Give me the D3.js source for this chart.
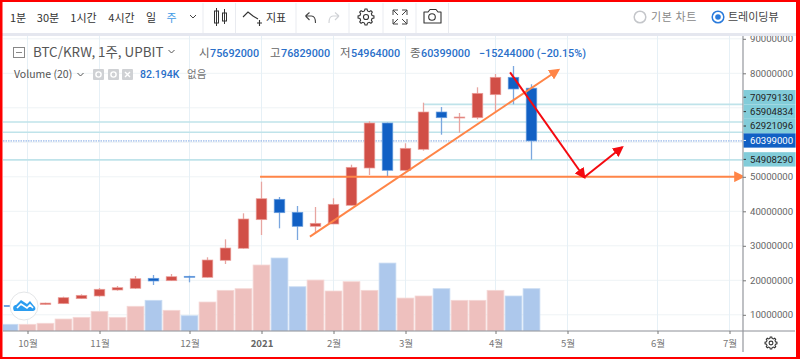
<!DOCTYPE html>
<html><head><meta charset="utf-8">
<script src="https://cdn.jsdelivr.net/npm/d3@7"></script>
<style>
html,body{margin:0;padding:0;background:#fff;overflow:hidden}
svg{display:block}
text{font-family:"Noto Sans CJK KR","Noto Sans",sans-serif}
.num{font-family:"Roboto","Liberation Sans",sans-serif}
</style></head><body>
<div id="chart"></div>
<script>
// ---- data (prices in millions of KRW, volume in thousands BTC) ----
const opens  = [12.7,12.5,13.0,13.22,14.67,15.45,17.19,17.68,20.58,19.88,21.16,20.87,25.8,29.28,37.57,43.48,39.71,35.65,36.32,41.74,52.55,65.59,51.88,57.97,68.78,67.04,67.13,73.8,78.84,75.692];
const highs  = [12.8,13.1,13.5,15.25,15.94,17.77,18.35,21.25,21.54,21.83,21.33,26.67,31.88,39.42,48.58,44.14,41.54,41.25,43.77,53.51,66.09,65.7,59.71,71.48,70.23,68.49,75.94,79.8,82.12,76.829];
const lows   = [12.3,12.4,12.9,13.2,14.6,15.25,16.99,17.48,18.64,19.8,19.42,20.8,24.72,29.16,33.13,35.07,31.68,33.71,36.3,41.7,50.52,50.03,51.8,57.57,62.2,62.78,66.67,68.87,71.01,54.964];
const closes = [12.45,13.0,13.4,14.96,15.65,17.4,17.86,20.46,19.8,21.04,20.87,25.88,29.36,37.77,43.65,39.59,35.65,36.52,42.03,52.75,65.59,51.88,58.26,68.78,67.13,67.33,74.2,78.84,75.45,60.399];
const volumes = [13,13,15,23.3,26.6,38.3,26.6,48,59.6,40.2,29.7,56.3,79,82.2,128.2,141.8,86,99,77.7,95.8,79,132,64,68,82.2,59.6,59.6,79,68,82.194];
const priceTicks = [10,20,30,40,50,60,70,80,90];
const hiddenPriceLabels = [60,70];
const monthIdx = [1,5,10,14,18,22,27,31,36,40];
const monthLabels = ["10월","11월","12월","2021","2월","3월","4월","5월","6월","7월"];
const levels = [70.97913,65.904834,62.921096,60.399,54.90829];
const levelLabels = ["70979130","65904834","62921096","60399000","54908290"];
const levelFrom = [23,-1,-1,-1,-1];
// drawings, as [bar index, price]
const supportLine = [[13.92,50.05],[40.75,50.05]];
const trendLine = [[16.69,32.64],[30.49,80.96]];
const redDown = [[27.81,80.29],[31.93,49.86]];
const redUp = [[31.93,49.86],[34.03,58.55]];
const intervals = ["1분","30분","1시간","4시간","일","주"];
const intervalX = [18,48,83.5,121.5,151,171.5];
const ohlcPrefix = ["시","고","저","종"];
const ohlcValues = ["75692000","76829000","54964000","60399000"];
const ohlcX = [199,270,340,410];

const W=800,H=359;
const svg=d3.select("#chart").append("svg").attr("width",W).attr("height",H);
const x=d3.scaleLinear().domain([0,29]).range([9.5,531.5]);
const y=d3.scaleLinear().domain([10,90]).range([314.8,38.8]);
const vol=d3.scaleLinear().domain([0,82.194]).range([331,288.7]);
const pLeft=3,pRight=743,pTop=36,pBottom=331;
const UP="#d14f47",DOWN="#1160c4",UPW="#e7a5a1",DOWNW="#7ba7df",UPE="#eb9f9a",DOWNE="#6a9ede";

svg.append("defs").append("clipPath").attr("id","plot").append("rect")
  .attr("x",pLeft).attr("y",pTop).attr("width",pRight-pLeft).attr("height",pBottom-pTop);
const mk=svg.select("defs").selectAll("marker").data([["arrowO","#ff8547"],["arrowR","#f40a10"]]).join("marker")
  .attr("id",d=>d[0]).attr("viewBox","0 0 10 10").attr("refX",8).attr("refY",5)
  .attr("markerUnits","userSpaceOnUse").attr("markerWidth",11).attr("markerHeight",11).attr("orient","auto");
mk.append("path").attr("d","M0,0L10,5L0,10Z").attr("fill",d=>d[1]);

const plot=svg.append("g").attr("clip-path","url(#plot)");
// grid
plot.append("g").selectAll("line").data(priceTicks).join("line")
  .attr("x1",pLeft).attr("x2",pRight).attr("y1",d=>y(d)).attr("y2",d=>y(d))
  .attr("stroke","#eef3f6").attr("stroke-width",1);
plot.append("g").selectAll("line").data(monthIdx).join("line")
  .attr("x1",d=>x(d)).attr("x2",d=>x(d)).attr("y1",pTop).attr("y2",pBottom)
  .attr("stroke","#e6f0f6").attr("stroke-width",1);
// volume
const idx=d3.range(opens.length);
plot.append("g").selectAll("rect").data(idx).join("rect")
  .attr("x",i=>x(i)-8.4).attr("width",16.8)
  .attr("y",i=>vol(volumes[i])).attr("height",i=>vol(0)-vol(volumes[i]))
  .attr("fill",i=>closes[i]<opens[i]?"#adc8ec":"#eec0be")
  .attr("stroke",i=>closes[i]<opens[i]?"#c9dcf3":"#f5d8d6").attr("stroke-width",0.8);
// levels
plot.append("g").selectAll("line").data(levels).join("line")
  .attr("x1",(d,i)=>levelFrom[i]<0?pLeft:x(levelFrom[i])).attr("x2",pRight)
  .attr("y1",d=>y(d)).attr("y2",d=>y(d))
  .attr("stroke",(d,i)=>i===3?"#7ea6e3":"#bfe3ea")
  .attr("stroke-width",(d,i)=>i===3?1:1.6)
  .attr("stroke-dasharray",(d,i)=>i===3?"1.5 1":null);
// candles
const c=plot.append("g").selectAll("g").data(idx).join("g");
c.append("line").attr("x1",i=>x(i)).attr("x2",i=>x(i))
  .attr("y1",i=>y(highs[i])).attr("y2",i=>y(lows[i]))
  .attr("stroke",i=>closes[i]<opens[i]?DOWNW:UPW).attr("stroke-width",1.3);
c.append("rect").attr("x",i=>x(i)-5.3).attr("width",10.6)
  .attr("y",i=>y(Math.max(opens[i],closes[i])))
  .attr("height",i=>Math.max(1,Math.abs(y(opens[i])-y(closes[i]))))
  .attr("fill",i=>closes[i]<opens[i]?DOWN:UP)
  .attr("stroke",i=>closes[i]<opens[i]?DOWNE:UPE).attr("stroke-width",0.7);
// drawings
const ln=d3.line().x(d=>x(d[0])).y(d=>y(d[1]));
plot.append("path").attr("d",ln(supportLine)).attr("fill","none").attr("stroke","#ff8547").attr("stroke-width",2).attr("marker-end","url(#arrowO)");
plot.append("path").attr("d",ln(trendLine)).attr("fill","none").attr("stroke","#ff8547").attr("stroke-width",2).attr("marker-end","url(#arrowO)");
plot.append("path").attr("d",ln(redDown)).attr("fill","none").attr("stroke","#f40a10").attr("stroke-width",2).attr("marker-end","url(#arrowR)");
plot.append("path").attr("d",ln(redUp)).attr("fill","none").attr("stroke","#f40a10").attr("stroke-width",2).attr("marker-end","url(#arrowR)");

// logo
const logo=svg.append("g").attr("transform","translate(24,306)");
logo.append("circle").attr("r",14).attr("fill","#fff").attr("stroke","#e4e6e8").attr("stroke-width",1);
logo.append("path").attr("d","M-10,5 C-12,1 -10,-1 -8,-1 L-3,-6 L3,-2 L6,-5 L10,0 C12,1 12,5 9,5 Z").attr("fill","#2b9df0");
logo.append("path").attr("d","M-7,2 L-3,-2 L3,2 L6,-1 L9,2").attr("fill","none").attr("stroke","#fff").attr("stroke-width",1.6);

// axes frame
svg.append("line").attr("x1",pLeft).attr("x2",795).attr("y1",pBottom).attr("y2",pBottom).attr("stroke","#8c8f96");
svg.append("line").attr("x1",pRight).attr("x2",pRight).attr("y1",pTop).attr("y2",352).attr("stroke","#94979d").attr("stroke-width",1.2);

// price axis
const pa=svg.append("g").attr("transform",`translate(${pRight},0)`)
  .call(d3.axisRight(y).tickValues(priceTicks.filter(d=>!hiddenPriceLabels.includes(d))).tickSize(3).tickPadding(4).tickFormat(d=>String(d*1e6)));
pa.select(".domain").remove();
pa.selectAll("line").attr("stroke","#777");
pa.selectAll("text").attr("class","num").attr("font-size",9.6).attr("fill","#666");

// stacked level labels
const LH=14.4;
let prev=Infinity;
const order=levels.map((v,i)=>({v,i})).sort((a,b)=>a.v-b.v);
order.forEach(o=>{let p=y(o.v)-0.5; if(prev-p<LH)p=prev-LH; o.p=p; prev=p;});
const lg=svg.append("g").selectAll("g").data(order).join("g").attr("transform",d=>`translate(${pRight},${d.p})`);
lg.append("rect").attr("x",0.6).attr("y",-LH/2).attr("width",52).attr("height",LH)
  .attr("fill",d=>d.i===3?DOWN:"#82ccd9");
lg.append("line").attr("x1",0.6).attr("x2",3).attr("stroke",d=>d.i===3?"#fff":"#333");
lg.append("text").attr("class","num").attr("x",7).attr("y",3.4).attr("font-size",9.6)
  .attr("fill",d=>d.i===3?"#fff":"#222").text(d=>levelLabels[d.i]);

// time axis
const ta=svg.append("g").attr("transform",`translate(0,${pBottom})`)
  .call(d3.axisBottom(x).tickValues(monthIdx).tickSize(3).tickPadding(6).tickFormat((d,i)=>monthLabels[i]));
ta.select(".domain").remove();
ta.selectAll("line").attr("stroke","#777");
ta.selectAll("text").attr("font-size",9.6).attr("fill","#777")
  .attr("font-weight",d=>d===14?700:400).style("fill",d=>d===14?"#666":"#777");

// gear
function gear(g,cx,cy,r,col){
  const n=8,pts=[];
  d3.range(n).forEach(k=>{const a=k/n*2*Math.PI; const da=Math.PI/n*0.45;
    [[r*0.78,a-da*1.4],[r,a-da*0.7],[r,a+da*0.7],[r*0.78,a+da*1.4]].forEach(p=>pts.push([cx+p[0]*Math.cos(p[1]),cy+p[0]*Math.sin(p[1])]));});
  g.append("path").attr("d",d3.line().curve(d3.curveLinearClosed)(pts)).attr("fill","none").attr("stroke",col).attr("stroke-width",1.1);
  g.append("circle").attr("cx",cx).attr("cy",cy).attr("r",r*0.32).attr("fill","none").attr("stroke",col).attr("stroke-width",1.1);
}
gear(svg,771,343,6,"#333");

// toolbar
svg.append("rect").attr("x",0).attr("y",33).attr("width",796).attr("height",3).attr("fill","#e5e7ef");
svg.append("g").selectAll("line").data([203,235.5,296,349,383,416,448.5]).join("line")
  .attr("x1",d=>d).attr("x2",d=>d).attr("y1",3).attr("y2",33).attr("stroke","#e9ebf0");
svg.append("g").selectAll("text").data(intervals).join("text")
  .attr("x",(d,i)=>intervalX[i]).attr("y",22).attr("text-anchor","middle").attr("font-size",11)
  .attr("fill",(d,i)=>i===5?"#3f9be6":"#333").text(d=>d);
const chev=(g,cx,cy,col)=>g.append("path").attr("d",`M${cx-3},${cy-1.5}L${cx},${cy+1.5}L${cx+3},${cy-1.5}`).attr("fill","none").attr("stroke",col).attr("stroke-width",1);
chev(svg,193,16.5,"#444");
// candle icon
const ic=svg.append("g").attr("stroke","#333").attr("fill","none").attr("stroke-width",1);
ic.append("rect").attr("x",214.5).attr("y",11).attr("width",4).attr("height",12);
ic.append("line").attr("x1",216.5).attr("x2",216.5).attr("y1",8).attr("y2",26);
ic.append("rect").attr("x",222.5).attr("y",13).attr("width",4).attr("height",8);
ic.append("line").attr("x1",224.5).attr("x2",224.5).attr("y1",9).attr("y2",24);
// indicator icon
svg.append("path").attr("d","M243,17L248,12L253,16L258,19").attr("fill","none").attr("stroke","#333").attr("stroke-width",1.1);
svg.append("path").attr("d","M257,23H262M259.5,20V26").attr("fill","none").attr("stroke","#333").attr("stroke-width",1.1);
svg.append("text").attr("x",266).attr("y",22).attr("font-size",11).attr("fill","#333").text("지표");
// undo/redo
svg.append("path").attr("d","M307,13L311,17M307,13L311,9.5M307,13H313C316,13 317,16 317,20").attr("transform","translate(-1.5,3)").attr("fill","none").attr("stroke","#444").attr("stroke-width",1.1);
svg.append("path").attr("d","M339,13L335,17M339,13L335,9.5M339,13H333C330,13 329,16 329,20").attr("transform","translate(0,3)").attr("fill","none").attr("stroke","#d0d2d6").attr("stroke-width",1.1);
gear(svg,366,17,8,"#333");
// fullscreen
svg.append("path").attr("d","M393,15V10H398M393,10L398,15M407,15V10H402M407,10L402,15M393,19V24H398M393,24L398,19M407,19V24H402M407,24L402,19").attr("fill","none").attr("stroke","#444").attr("stroke-width",1);
// camera
svg.append("path").attr("d","M424,12H428L430,9.5H436L438,12H441V23H424Z").attr("fill","none").attr("stroke","#333").attr("stroke-width",1.1).attr("stroke-linejoin","round");
svg.append("circle").attr("cx",432).attr("cy",17).attr("r",3.3).attr("fill","none").attr("stroke","#333").attr("stroke-width",1.1);
// radios
svg.append("circle").attr("cx",640).attr("cy",17).attr("r",5.8).attr("fill","#fff").attr("stroke","#c4c6ca").attr("stroke-width",1.5);
svg.append("text").attr("x",651).attr("y",21).attr("font-size",11).attr("letter-spacing",0.6).attr("fill","#888").text("기본 차트");
svg.append("circle").attr("cx",718).attr("cy",17).attr("r",5.8).attr("fill","#fff").attr("stroke","#2a7bdc").attr("stroke-width",1.5);
svg.append("circle").attr("cx",718).attr("cy",17).attr("r",2.8).attr("fill","#2a7bdc");
svg.append("text").attr("x",728).attr("y",21).attr("font-size",11).attr("fill","#444").text("트레이딩뷰");

// legend
svg.append("rect").attr("x",13.5).attr("y",47.5).attr("width",11).attr("height",10).attr("fill","none").attr("stroke","#888");
svg.append("line").attr("x1",16).attr("x2",22).attr("y1",52.5).attr("y2",52.5).attr("stroke","#888");
svg.append("text").attr("x",33).attr("y",57).attr("font-size",13.4).attr("fill","#555").text("BTC/KRW, 1주, UPBIT");
chev(svg,171.5,51.5,"#555");
const BLUE="#2a6fc9";
svg.append("g").selectAll("text").data(ohlcPrefix).join("text").attr("x",(d,i)=>ohlcX[i]).attr("y",57).attr("font-size",11.5).attr("fill","#666").text(d=>d);
svg.append("g").selectAll("text").data(ohlcValues).join("text").attr("class","num").attr("x",(d,i)=>ohlcX[i]+11).attr("y",57).attr("font-size",10.8).attr("fill",BLUE).attr("font-weight",500).text(d=>d);
svg.append("text").attr("class","num").attr("x",479).attr("y",57).attr("font-size",10.8).attr("fill",BLUE).attr("font-weight",500).text("−15244000 (−20.15%)");
svg.append("text").attr("x",14).attr("y",78).attr("font-size",10.5).attr("fill","#555").text("Volume (20)");
chev(svg,80.5,74.5,"#555");
svg.append("g").selectAll("rect").data([93,108,122]).join("rect").attr("x",d=>d).attr("y",69).attr("width",11).attr("height",11).attr("rx",1).attr("fill","#cfd1d4");
svg.append("g").selectAll("circle").data([98.5,113.5]).join("circle").attr("cx",d=>d).attr("cy",74.5).attr("r",2.6).attr("fill","none").attr("stroke","#fff").attr("stroke-width",1.4);
svg.append("path").attr("d","M125,72L130,77M130,72L125,77").attr("stroke","#fff").attr("stroke-width",1.4);
svg.append("text").attr("class","num").attr("x",140).attr("y",78).attr("font-size",10.5).attr("fill",BLUE).attr("font-weight",500).text("82.194K");
svg.append("text").attr("x",187).attr("y",78).attr("font-size",10.5).attr("fill","#777").text("없음");

// red outer border
svg.append("rect").attr("x",0).attr("y",0).attr("width",800).attr("height",2).attr("fill","#fe0000");
svg.append("rect").attr("x",0).attr("y",357).attr("width",800).attr("height",2).attr("fill","#fe0000");
svg.append("rect").attr("x",0).attr("y",0).attr("width",2.5).attr("height",359).attr("fill","#fe0000");
svg.append("rect").attr("x",796).attr("y",0).attr("width",4).attr("height",359).attr("fill","#fe0000");
</script>
</body></html>
